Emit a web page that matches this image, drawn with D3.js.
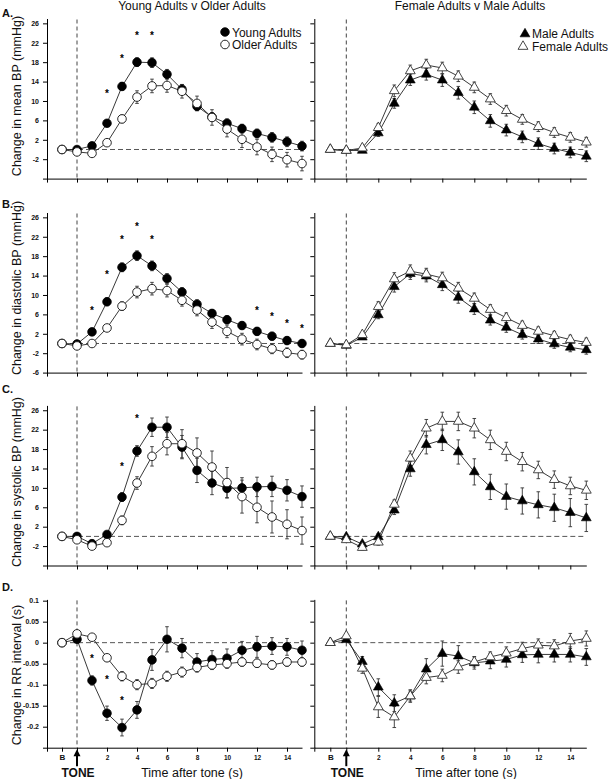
<!DOCTYPE html>
<html>
<head>
<meta charset="utf-8">
<script src="https://cdn.jsdelivr.net/npm/d3@7"></script>
<style>
  html, body { margin: 0; padding: 0; background: #fff; }
  svg { display: block; font-family: Arial, "Liberation Sans", sans-serif; }
</style>
</head>
<body>
<svg id="chart" width="609" height="779"></svg>
<script>
// ---------- DATA ----------
const times = [-1, 0, 1, 2, 3, 4, 5, 6, 7, 8, 9, 10, 11, 12, 13, 14, 15]; // -1 = baseline "B"

// A. mean BP
const mbpYoung     = [0, 0, 0.75, 5.4, 13.0, 18.0, 17.9, 15.5, 12.4, 8.9, 6.7, 5.4, 4.3, 3.3, 2.5, 1.6, 0.7];
const mbpYoungErr  = [0, 0.3, 0.4, 0.6, 0.8, 0.9, 1.0, 1.0, 1.0, 0.9, 0.9, 0.9, 0.9, 0.9, 1.0, 1.0, 1.0];
const mbpOlder     = [0, -0.5, -0.8, 1.4, 6.3, 10.8, 13.1, 13.2, 12.0, 9.5, 6.6, 4.2, 2.1, 0.5, -1.0, -2.1, -2.9];
const mbpOlderErr  = [0, 0.4, 0.5, 0.6, 0.8, 1.3, 1.4, 1.4, 1.4, 1.5, 1.6, 1.6, 1.7, 1.6, 1.5, 1.5, 1.5];
const mbpMale      = [0, -0.2, -0.2, 3.4, 9.5, 14.3, 15.5, 14.3, 11.7, 8.7, 5.9, 4.0, 2.6, 1.2, 0.2, -0.6, -1.4];
const mbpMaleErr   = [0, 0.3, 0.3, 0.7, 1.0, 1.1, 1.2, 1.3, 1.3, 1.3, 1.3, 1.2, 1.2, 1.2, 1.1, 1.1, 1.1];
const mbpFemale    = [0, -0.2, 0.3, 4.5, 12.1, 16.2, 17.4, 16.8, 15.1, 12.8, 10.4, 8.0, 6.2, 4.7, 3.5, 2.5, 1.5];
const mbpFemaleErr = [0, 0.3, 0.3, 0.8, 1.2, 1.2, 1.2, 1.2, 1.1, 1.1, 1.1, 1.1, 1.0, 1.0, 1.0, 1.0, 1.0];

// B. diastolic BP
const dbpYoung     = [0, -0.1, 2.4, 8.6, 15.7, 18.1, 16.0, 13.4, 10.6, 8.1, 6.2, 4.9, 3.7, 2.5, 1.5, 0.6, 0.0];
const dbpYoungErr  = [0, 0.3, 0.5, 0.8, 0.9, 1.0, 1.0, 1.0, 0.9, 0.9, 0.8, 0.8, 0.8, 0.8, 0.8, 0.8, 0.8];
const dbpOlder     = [0, -0.5, 0.0, 3.2, 7.7, 10.6, 11.3, 10.9, 8.9, 6.9, 4.4, 2.5, 0.9, -0.2, -1.1, -1.9, -2.3];
const dbpOlderErr  = [0, 0.3, 0.3, 0.5, 0.9, 1.2, 1.3, 1.3, 1.2, 1.2, 1.3, 1.3, 1.2, 1.1, 1.0, 1.0, 0.9];
const dbpMale      = [0, -0.4, 1.3, 5.9, 11.7, 14.4, 13.9, 12.1, 9.5, 7.1, 4.8, 3.3, 1.8, 0.9, -0.1, -0.8, -1.3];
const dbpMaleErr   = [0, 0.3, 0.4, 0.8, 1.1, 1.2, 1.2, 1.2, 1.2, 1.1, 1.0, 1.0, 0.9, 0.9, 0.9, 0.9, 0.9];
const dbpFemale    = [0, -0.3, 1.8, 7.6, 13.3, 14.9, 14.3, 13.5, 11.4, 9.3, 7.0, 5.3, 3.7, 2.5, 1.6, 0.8, 0.2];
const dbpFemaleErr = [0, 0.3, 0.4, 1.0, 1.3, 1.3, 1.2, 1.2, 1.2, 1.1, 1.0, 1.0, 0.9, 0.9, 0.9, 0.9, 0.9];

// C. systolic BP
const sbpYoung     = [0, 0, -1.5, 0.4, 8.1, 17.6, 22.5, 22.5, 18.4, 13.6, 11.0, 9.9, 10.0, 10.2, 10.3, 9.5, 8.2];
const sbpYoungErr  = [0, 0.4, 0.5, 0.6, 0.9, 1.1, 1.9, 2.1, 2.4, 2.5, 2.4, 2.0, 2.1, 2.0, 2.1, 2.2, 2.2];
const sbpOlder     = [0, -0.7, -2.0, -1.3, 3.3, 11.0, 16.5, 19.1, 19.1, 17.2, 14.3, 11.1, 8.2, 6.0, 4.0, 2.5, 1.2];
const sbpOlderErr  = [0, 0.4, 0.5, 0.6, 0.9, 1.3, 2.0, 2.3, 2.9, 3.1, 3.3, 3.1, 3.4, 3.2, 3.3, 3.0, 2.8];
const sbpMale      = [0, -0.1, -1.6, -0.1, 5.4, 13.9, 18.9, 19.9, 17.4, 13.3, 10.2, 8.2, 7.3, 6.5, 5.9, 4.9, 3.8];
const sbpMaleErr   = [0, 0.4, 0.5, 0.6, 0.9, 1.5, 1.9, 2.2, 2.5, 2.7, 2.6, 2.6, 2.7, 2.7, 2.8, 2.9, 2.8];
const sbpFemale    = [0, -0.7, -2.3, -1.2, 6.6, 16.1, 22.3, 23.7, 23.7, 22.3, 19.9, 17.5, 15.4, 13.7, 11.7, 10.4, 9.5];
const sbpFemaleErr = [0, 0.4, 0.5, 0.6, 0.9, 1.5, 1.8, 1.9, 1.9, 2.0, 2.0, 1.9, 1.9, 1.8, 1.8, 1.8, 1.9];

// D. RR interval
const rrYoung      = [0, 0.008, -0.090, -0.168, -0.202, -0.160, -0.041, 0.008, -0.013, -0.046, -0.040, -0.037, -0.018, -0.010, -0.008, -0.010, -0.018];
const rrYoungErr   = [0, 0.004, 0.011, 0.017, 0.020, 0.020, 0.025, 0.030, 0.023, 0.020, 0.021, 0.022, 0.021, 0.025, 0.020, 0.020, 0.022];
const rrOlder      = [0, 0.021, 0.013, -0.036, -0.080, -0.100, -0.097, -0.080, -0.070, -0.059, -0.053, -0.050, -0.046, -0.049, -0.053, -0.046, -0.046];
const rrOlderErr   = [0, 0.005, 0.006, 0.008, 0.011, 0.012, 0.012, 0.012, 0.012, 0.011, 0.011, 0.011, 0.010, 0.010, 0.010, 0.010, 0.010];
const rrMale       = [0, 0.007, -0.045, -0.106, -0.144, -0.127, -0.063, -0.026, -0.032, -0.048, -0.044, -0.040, -0.029, -0.028, -0.028, -0.028, -0.034];
const rrMaleErr    = [0, 0.004, 0.012, 0.020, 0.020, 0.015, 0.025, 0.030, 0.025, 0.015, 0.018, 0.018, 0.018, 0.020, 0.018, 0.018, 0.020];
const rrFemale     = [0, 0.016, -0.061, -0.153, -0.177, -0.127, -0.083, -0.078, -0.058, -0.046, -0.034, -0.025, -0.014, -0.006, -0.008, 0.004, 0.010];
const rrFemaleErr  = [0, 0.004, 0.012, 0.025, 0.025, 0.012, 0.015, 0.015, 0.015, 0.012, 0.012, 0.015, 0.015, 0.015, 0.015, 0.018, 0.018];

// Significance asterisks (time, value)
const starsA = [[2, 11.9], [3, 19.1], [4, 24.0], [5, 24.0]];
const starsB = [[1, 7.3], [2, 14.7], [3, 21.9], [4, 24.6], [5, 21.9], [12, 7.3], [13, 5.9], [14, 4.6], [15, 3.4]];
const starsC = [[3, 14.9], [4, 24.8]];
const starsD = [[1, -0.034], [2, -0.084], [3, -0.134]];

// Tick labels
const bpTicks = [-6, -2, 2, 6, 10, 14, 18, 22, 26];
const rrTicks = [-0.25, -0.2, -0.15, -0.1, -0.05, 0, 0.05, 0.1];
const rrTickLabels = ["", "-0.2", "-0.15", "-0.1", "-0.05", "0", "0.05", "0.1"];
const xTicksTop = [-2, 0, 2, 4, 6, 8, 10, 12, 14];
const xTicksBottom = [-2, -1, 0, 2, 4, 6, 8, 10, 12, 14];
const xTickLabelsBottom = ["", "B", "", "2", "4", "6", "8", "10", "12", "14"];

const titleLeft = "Young Adults v Older Adults";
const titleRight = "Female Adults v Male Adults";
const legendLeft = ["Young Adults", "Older Adults"];
const legendRight = ["Male Adults", "Female Adults"];
const yLabels = ["Change in mean BP (mmHg)", "Change in diastolic BP (mmHg)", "Change in systolic BP (mmHg)", "Change in RR interval (s)"];
const panelLetters = ["A.", "B.", "C.", "D."];

// ---------- LAYOUT ----------
const svg = d3.select("#chart");
const FONT = "Arial, 'Liberation Sans', sans-serif";

const xLeft = d3.scaleLinear().domain([-2, 15]).range([47, 302]);
const xRight = d3.scaleLinear().domain([-2, 15]).range([314.3, 586.3]);

const rows = [
  { y: d3.scaleLinear().domain([-6, 27]).range([178.6, 18.5]), ticks: bpTicks, labels: bpTicks.map(v => v === -6 ? "" : String(v)), letterY: 17, ylabCenter: 96 },
  { y: d3.scaleLinear().domain([-6, 27]).range([372.6, 212.5]), ticks: bpTicks, labels: bpTicks.map(String), letterY: 208, ylabCenter: 288 },
  { y: d3.scaleLinear().domain([-6, 27]).range([565.5, 405.4]), ticks: bpTicks, labels: bpTicks.map(v => v === -6 ? "" : String(v)), letterY: 393, ylabCenter: 482 },
  { y: d3.scaleLinear().domain([-0.25, 0.103]).range([747.7, 599.4]), ticks: rrTicks, labels: rrTickLabels, letterY: 591, ylabCenter: 675 }
];

const seriesSets = [
  { left: [[mbpYoung, mbpYoungErr], [mbpOlder, mbpOlderErr]], right: [[mbpMale, mbpMaleErr], [mbpFemale, mbpFemaleErr]], stars: starsA },
  { left: [[dbpYoung, dbpYoungErr], [dbpOlder, dbpOlderErr]], right: [[dbpMale, dbpMaleErr], [dbpFemale, dbpFemaleErr]], stars: starsB },
  { left: [[sbpYoung, sbpYoungErr], [sbpOlder, sbpOlderErr]], right: [[sbpMale, sbpMaleErr], [sbpFemale, sbpFemaleErr]], stars: starsC },
  { left: [[rrYoung, rrYoungErr], [rrOlder, rrOlderErr]], right: [[rrMale, rrMaleErr], [rrFemale, rrFemaleErr]], stars: starsD }
];

const tri = d3.symbol().type(d3.symbolTriangle).size(42);

function drawMarker(g, kind, cx, cy) {
  if (kind === "circleFilled") {
    g.append("circle").attr("cx", cx).attr("cy", cy).attr("r", 4.3).attr("fill", "#000").attr("stroke", "#000").attr("stroke-width", 0.8);
  } else if (kind === "circleOpen") {
    g.append("circle").attr("cx", cx).attr("cy", cy).attr("r", 4.3).attr("fill", "#fff").attr("stroke", "#111").attr("stroke-width", 0.9);
  } else if (kind === "triFilled") {
    g.append("path").attr("d", tri()).attr("transform", `translate(${cx},${cy})`).attr("fill", "#000").attr("stroke", "#000").attr("stroke-width", 0.6);
  } else {
    g.append("path").attr("d", tri()).attr("transform", `translate(${cx},${cy})`).attr("fill", "#fff").attr("stroke", "#333").attr("stroke-width", 0.9);
  }
}

function drawPanel(rowIdx, side) {
  const row = rows[rowIdx];
  const x = side === "left" ? xLeft : xRight;
  const y = row.y;
  const g = svg.append("g");
  const isBottom = rowIdx === 3;

  // y axis
  const yAxis = d3.axisLeft(y).tickValues(row.ticks).tickSize(4).tickSizeOuter(0)
    .tickFormat((d, i) => side === "left" ? row.labels[i] : "");
  const ya = g.append("g").attr("transform", `translate(${x(-2)},0)`).call(yAxis);
  ya.select(".domain").attr("stroke", "#000").attr("stroke-width", 1);
  ya.selectAll(".tick line").attr("stroke", "#000");
  ya.selectAll(".tick text").attr("font-family", FONT).attr("font-size", 7).attr("font-weight", "bold").attr("fill", "#111").attr("dx", "-1");

  // x axis
  const xAxis = d3.axisBottom(x).tickValues(isBottom ? xTicksBottom : xTicksTop).tickSize(4).tickSizeOuter(0)
    .tickFormat((d, i) => isBottom ? xTickLabelsBottom[i] : "");
  const xa = g.append("g").attr("transform", `translate(0,${y.range()[0]})`).call(xAxis);
  xa.select(".domain").attr("stroke", "#000").attr("stroke-width", 1);
  xa.selectAll(".tick line").attr("stroke", "#000");
  xa.selectAll(".tick text").attr("font-family", FONT).attr("font-weight", "bold").attr("fill", "#111")
    .attr("font-size", d => d === -1 ? 8 : 6.5).attr("y", 0).attr("dy", null)
    .attr("transform", "translate(0,12.5)");

  // reference dashed lines
  g.append("line").attr("x1", x(-1)).attr("x2", x(15)).attr("y1", y(0)).attr("y2", y(0))
    .attr("stroke", "#555").attr("stroke-width", 1).attr("stroke-dasharray", "5,3");
  g.append("line").attr("x1", x(0)).attr("x2", x(0)).attr("y1", y.range()[1] + 1).attr("y2", y.range()[0])
    .attr("stroke", "#444").attr("stroke-width", 1).attr("stroke-dasharray", "4,3");

  const sets = seriesSets[rowIdx][side];
  const kinds = side === "left" ? ["circleFilled", "circleOpen"] : ["triFilled", "triOpen"];
  const line = d3.line().x(d => x(d[0])).y(d => y(d[1]));

  sets.forEach(([vals]) => {
    g.append("path").datum(times.map((t, i) => [t, vals[i]])).attr("d", line)
      .attr("fill", "none").attr("stroke", "#222").attr("stroke-width", 0.9);
  });
  sets.forEach(([vals, errs]) => {
    times.forEach((t, i) => {
      if (!errs[i]) return;
      const cx = x(t), y1 = y(vals[i] + errs[i]), y2 = y(vals[i] - errs[i]);
      g.append("line").attr("x1", cx).attr("x2", cx).attr("y1", y1).attr("y2", y2).attr("stroke", "#333").attr("stroke-width", 0.9);
      g.append("line").attr("x1", cx - 1.8).attr("x2", cx + 1.8).attr("y1", y1).attr("y2", y1).attr("stroke", "#333").attr("stroke-width", 0.9);
      g.append("line").attr("x1", cx - 1.8).attr("x2", cx + 1.8).attr("y1", y2).attr("y2", y2).attr("stroke", "#333").attr("stroke-width", 0.9);
    });
  });
  sets.forEach(([vals], si) => {
    times.forEach((t, i) => drawMarker(g, kinds[si], x(t), y(vals[i])));
  });

  if (side === "left") {
    seriesSets[rowIdx].stars.forEach(([t, v]) => {
      g.append("text").attr("x", x(t)).attr("y", y(v) + 5.5).attr("text-anchor", "middle")
        .attr("font-family", FONT).attr("font-size", 10).attr("font-weight", "bold").attr("fill", "#000").text("*");
    });
  }

  if (isBottom) {
    const ax = x(0), top = y.range()[0] + 1.5;
    g.append("line").attr("x1", ax).attr("x2", ax).attr("y1", top + 5).attr("y2", top + 17).attr("stroke", "#000").attr("stroke-width", 2);
    g.append("path").attr("d", `M${ax},${top} L${ax - 3.5},${top + 7} L${ax + 3.5},${top + 7} Z`).attr("fill", "#000");
    g.append("text").attr("x", ax + 1).attr("y", 777).attr("text-anchor", "middle").attr("font-family", FONT)
      .attr("font-size", 12).attr("font-weight", "bold").attr("fill", "#111").text("TONE");
    g.append("text").attr("x", side === "left" ? 192 : 466).attr("y", 777).attr("text-anchor", "middle").attr("font-family", FONT)
      .attr("font-size", 12.5).attr("fill", "#111").text("Time after tone (s)");
  }
}

for (let r = 0; r < 4; r++) {
  drawPanel(r, "left");
  drawPanel(r, "right");
  svg.append("text").attr("x", 2).attr("y", rows[r].letterY).attr("font-family", FONT).attr("font-size", 11)
    .attr("font-weight", "bold").attr("fill", "#111").text(panelLetters[r]);
  svg.append("text").attr("transform", `translate(21,${rows[r].ylabCenter}) rotate(-90)`).attr("text-anchor", "middle")
    .attr("font-family", FONT).attr("font-size", 12.5).attr("fill", "#111").text(yLabels[r]);
}

// titles
svg.append("text").attr("x", 192).attr("y", 10).attr("text-anchor", "middle").attr("font-family", FONT)
  .attr("font-size", 12).attr("fill", "#111").text(titleLeft);
svg.append("text").attr("x", 470).attr("y", 10).attr("text-anchor", "middle").attr("font-family", FONT)
  .attr("font-size", 12).attr("fill", "#111").text(titleRight);

// legends
const lg = svg.append("g");
drawMarker(lg, "circleFilled", 225, 32);
drawMarker(lg, "circleOpen", 225, 44.5);
lg.append("text").attr("x", 232).attr("y", 36.5).attr("font-family", FONT).attr("font-size", 12).attr("fill", "#111").text(legendLeft[0]);
lg.append("text").attr("x", 232).attr("y", 49).attr("font-family", FONT).attr("font-size", 12).attr("fill", "#111").text(legendLeft[1]);
drawMarker(lg, "triFilled", 525, 34);
drawMarker(lg, "triOpen", 523, 46.5);
lg.append("text").attr("x", 532).attr("y", 38).attr("font-family", FONT).attr("font-size", 12).attr("fill", "#111").text(legendRight[0]);
lg.append("text").attr("x", 532).attr("y", 51).attr("font-family", FONT).attr("font-size", 12).attr("fill", "#111").text(legendRight[1]);
</script>
</body>
</html>
